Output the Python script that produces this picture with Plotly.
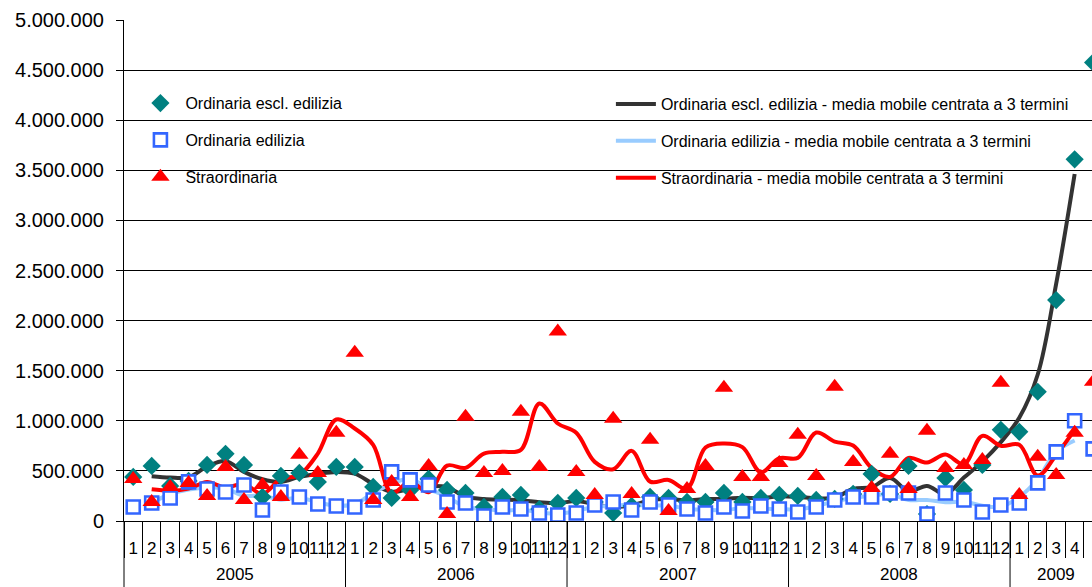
import plotly.graph_objects as go

# ---------------- data ----------------
year_labels = ["2005", "2006", "2007", "2008", "2009"]
year_first_idx = [0, 12, 24, 36, 48]
year_len = [12, 12, 12, 12, 5]
month_labels = ["1", "2", "3", "4", "5", "6", "7", "8", "9", "10", "11", "12"] * 4 + ["1", "2", "3", "4", "5"]

ord_escl = [440000, 550000, 350000, 400000, 560000, 670000, 560000, 240000, 450000, 480000, 390000, 540000,
            540000, 340000, 230000, 310000, 420000, 310000, 280000, 140000, 240000, 260000, 120000, 180000,
            230000, 190000, 80000, 150000, 240000, 230000, 190000, 190000, 280000, 190000, 230000, 260000,
            250000, 210000, 220000, 270000, 470000, 270000, 550000, 70000, 430000, 310000, 560000, 910000,
            890000, 1290000, 2205000, 3610000, 4575000]

ord_edil = [140000, 180000, 230000, 390000, 320000, 290000, 360000, 110000, 290000, 240000, 170000, 150000,
            140000, 210000, 490000, 410000, 360000, 190000, 180000, 50000, 140000, 120000, 80000, 60000,
            80000, 160000, 190000, 110000, 190000, 160000, 120000, 80000, 140000, 100000, 150000, 120000,
            90000, 140000, 210000, 240000, 240000, 280000, 280000, 70000, 280000, 210000, 90000, 160000,
            180000, 380000, 690000, 1000000, 720000]

straord = [420000, 190000, 340000, 380000, 250000, 540000, 210000, 360000, 240000, 660000, 480000, 880000,
           1680000, 210000, 390000, 240000, 550000, 70000, 1040000, 480000, 500000, 1090000, 540000, 1890000,
           490000, 260000, 1020000, 270000, 810000, 100000, 320000, 550000, 1330000, 440000, 440000, 580000,
           860000, 450000, 1340000, 590000, 330000, 670000, 320000, 900000, 530000, 560000, 610000, 1380000,
           260000, 640000, 460000, 880000, 1390000]

ma_ord_escl = [None, 447000, 433000, 437000, 543000, 597000, 490000, 417000, 390000, 440000, 470000, 490000,
               473000, 370000, 293000, 320000, 347000, 337000, 243000, 220000, 213000, 207000, 187000, 177000,
               200000, 167000, 140000, 157000, 207000, 220000, 203000, 220000, 220000, 233000, 227000, 247000,
               240000, 227000, 233000, 320000, 337000, 430000, 297000, 350000, 270000, 433000, 593000, 787000,
               1030000, 1462000, 2368000, 3463000, None]

ma_ord_edil = [None, 183000, 267000, 313000, 333000, 323000, 253000, 253000, 213000, 233000, 187000, 153000,
               167000, 280000, 370000, 420000, 320000, 243000, 140000, 123000, 103000, 113000, 87000, 73000,
               100000, 143000, 153000, 163000, 153000, 157000, 120000, 113000, 107000, 130000, 123000, 120000,
               117000, 147000, 197000, 230000, 253000, 267000, 210000, 210000, 187000, 193000, 153000, 143000,
               240000, 417000, 690000, 803000, None]

ma_straord = [None, 317000, 303000, 323000, 390000, 333000, 370000, 270000, 420000, 460000, 673000, 1013000,
              923000, 760000, 280000, 393000, 287000, 553000, 530000, 673000, 690000, 710000, 1173000, 973000,
              880000, 590000, 517000, 700000, 393000, 410000, 323000, 733000, 773000, 737000, 487000, 627000,
              630000, 883000, 793000, 753000, 530000, 440000, 630000, 583000, 663000, 567000, 850000, 750000,
              760000, 453000, 660000, 910000, None]

y_ticks = [0, 500000, 1000000, 1500000, 2000000, 2500000, 3000000, 3500000, 4000000, 4500000, 5000000]

# ---------------- figure ----------------
FONT = "Liberation Sans, Arial, sans-serif"
xs = list(range(len(month_labels)))

fig = go.Figure()

line_specs = [
    ("Ordinaria escl. edilizia - media mobile centrata a 3 termini", ma_ord_escl, "#333333"),
    ("Ordinaria edilizia - media mobile centrata a 3 termini", ma_ord_edil, "#99CCFF"),
    ("Straordinaria - media mobile centrata a 3 termini", ma_straord, "#FF0000"),
]
for i, (name, vals, col) in enumerate(line_specs):
    fig.add_trace(go.Scatter(
        x=xs, y=vals, mode="lines", name=name,
        line=dict(color=col, width=4, shape="spline", smoothing=1.0),
        legend="legend2", legendgroup="l%d" % i,
    ))

fig.add_trace(go.Scatter(
    x=xs, y=ord_escl, mode="markers", name="Ordinaria escl. edilizia",
    marker=dict(symbol="diamond", size=14, color="#008080", line=dict(width=0)),
    legendgroup="m0",
))
fig.add_trace(go.Scatter(
    x=xs, y=ord_edil, mode="markers", name="Ordinaria edilizia",
    marker=dict(symbol="square", size=13, color="white", line=dict(color="#3366FF", width=2.6)),
    legendgroup="m1",
))
fig.add_trace(go.Scatter(
    x=xs, y=straord, mode="markers", name="Straordinaria",
    marker=dict(symbol="triangle-up", size=16, color="#FF0000", line=dict(width=0)),
    legendgroup="m2",
))

# white area behind the legends (hides gridlines there)
fig.add_shape(type="rect", xref="paper", yref="paper", x0=0.002, x1=0.979, y0=0.64, y1=0.88,
              fillcolor="white", line=dict(width=0), layer="between")

# vertical separators of the year groups in the label area
fig.add_shape(type="line", xref="paper", yref="paper", x0=0, x1=0, y0=0, y1=-0.14,
              line=dict(color="black", width=1))
for k in year_first_idx[1:]:
    fig.add_shape(type="line", xref="x", yref="paper", x0=k - 0.5, x1=k - 0.5, y0=0, y1=-0.14,
                  line=dict(color="black", width=1))

# year labels
for lab, first, n in zip(year_labels, year_first_idx, year_len):
    fig.add_annotation(x=first + (n - 1) / 2, y=-0.1058, xref="x", yref="paper", text=lab,
                       showarrow=False, yanchor="middle", xanchor="center", borderpad=0,
                       font=dict(family=FONT, size=17, color="black"))

fig.update_layout(
    width=1092, height=587,
    margin=dict(l=124, r=0, t=20, b=66),
    paper_bgcolor="white", plot_bgcolor="white",
    separators=",.",
    font=dict(family=FONT, color="black"),
    showlegend=True,
    legend=dict(x=0.0118, y=0.868, xanchor="left", yanchor="top", bgcolor="rgba(0,0,0,0)",
                font=dict(family=FONT, size=16, color="black"), itemwidth=40,
                traceorder="grouped", tracegroupgap=13),
    legend2=dict(x=0.503, y=0.866, xanchor="left", yanchor="top", bgcolor="rgba(0,0,0,0)",
                 font=dict(family=FONT, size=16, color="black"), itemwidth=40,
                 traceorder="grouped", tracegroupgap=13),
    xaxis=dict(
        range=[-0.5, 51.94], tickmode="array", tickvals=xs, ticktext=month_labels, tickangle=0,
        ticks="", showgrid=False, zeroline=False, showline=True, linecolor="black", linewidth=1,
        tickfont=dict(family=FONT, size=17, color="black"), ticklabelstandoff=12,
        minor=dict(tickmode="array", tickvals=[v - 0.5 for v in xs], ticks="outside",
                   ticklen=36, tickcolor="black", tickwidth=1, showgrid=False),
    ),
    yaxis=dict(
        range=[0, 5000000], tickmode="array", tickvals=y_ticks, tickformat=",d",
        ticks="outside", ticklen=7, tickcolor="black", tickwidth=1,
        showgrid=True, gridcolor="black", gridwidth=1, zeroline=False,
        showline=True, linecolor="black", linewidth=1,
        tickfont=dict(family=FONT, size=20, color="black"), ticklabelstandoff=8,
    ),
)

fig.write_html("out.html", config={"displayModeBar": False},
               post_script="document.body.style.margin='0';")
